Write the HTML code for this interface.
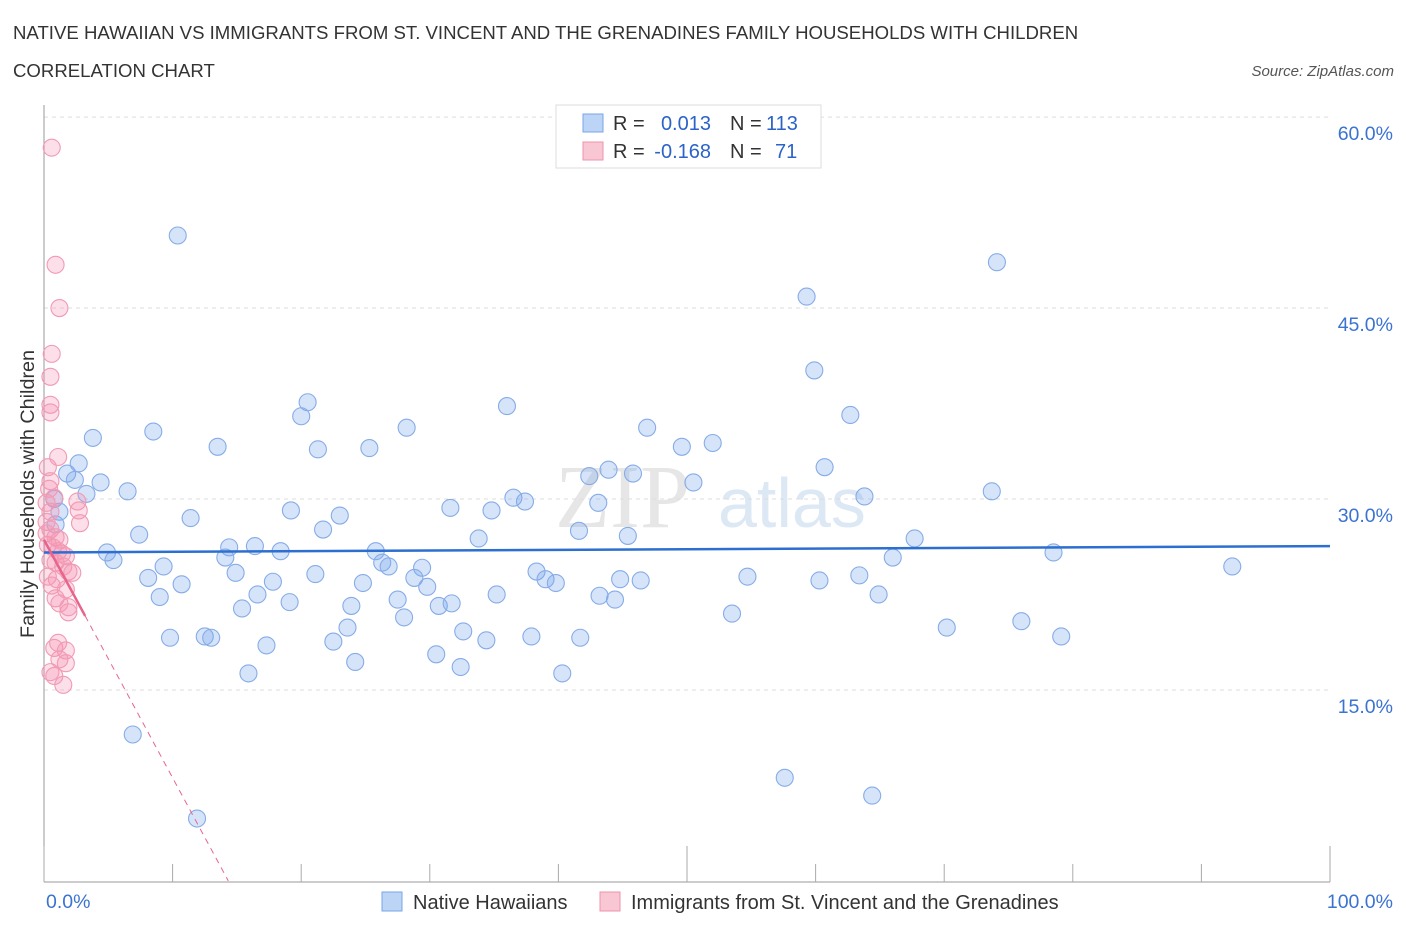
<!DOCTYPE html>
<html><head><meta charset="utf-8"><style>
body{margin:0;background:#fff;font-family:"Liberation Sans",sans-serif;}
svg{display:block}
</style></head><body>
<svg id="chart" width="1406" height="930" xmlns="http://www.w3.org/2000/svg">
<text x="13" y="39" font-size="18.6" fill="#333">NATIVE HAWAIIAN VS IMMIGRANTS FROM ST. VINCENT AND THE GRENADINES FAMILY HOUSEHOLDS WITH CHILDREN</text>
<text x="13" y="77" font-size="18.6" fill="#333">CORRELATION CHART</text>
<text x="1394" y="76" font-size="15" fill="#555" font-style="italic" text-anchor="end">Source: ZipAtlas.com</text>
<g><text x="555" y="527" font-size="90" fill="#e6e6e6" font-family="Liberation Serif,serif">ZIP</text><text x="718" y="527" font-size="70" fill="#dde8f5">atlas</text></g>
<g id="grid"></g><g id="axes"></g><g id="marks"></g>
<text transform="translate(34,494) rotate(-90)" font-size="19.8" fill="#333" text-anchor="middle">Family Households with Children</text>
<g>
<rect x="556" y="105" width="265" height="63" fill="#fff" stroke="#ddd"/>
<rect x="583" y="114" width="20" height="18" fill="#bcd4f5" stroke="#7aa6e6"/>
<text x="613" y="130" font-size="20" fill="#333">R =</text><text x="711" y="130" font-size="20" fill="#2b63c9" text-anchor="end">0.013</text>
<text x="730" y="130" font-size="20" fill="#333">N =</text><text x="766" y="130" font-size="20" fill="#2b63c9">113</text>
<rect x="583" y="142" width="20" height="18" fill="#f9c6d4" stroke="#ef92ae"/>
<text x="613" y="158" font-size="20" fill="#333">R =</text><text x="711" y="158" font-size="20" fill="#2b63c9" text-anchor="end">-0.168</text>
<text x="730" y="158" font-size="20" fill="#333">N =</text><text x="775" y="158" font-size="20" fill="#2b63c9">71</text>
</g>
<g>
<rect x="382" y="892" width="20" height="19" fill="#bcd4f5" stroke="#7aa6e6"/>
<text x="413" y="909" font-size="20" fill="#333">Native Hawaiians</text>
<rect x="600" y="892" width="20" height="19" fill="#f9c6d4" stroke="#ef92ae"/>
<text x="631" y="909" font-size="20" fill="#333">Immigrants from St. Vincent and the Grenadines</text>
</g>
</svg>
<script>
const blueX=[10.4,74.1,59.3,59.9,62.7,20.5,20.0,36.0,28.2,8.5,3.8,46.9,52.0,49.6,13.5,21.3,25.3,2.7,1.8,2.4,4.4,43.9,45.8,42.4,60.7,50.5,6.5,3.3,0.8,73.7,63.8,36.5,37.4,43.1,31.6,34.8,19.2,23.0,11.4,1.2,0.9,21.7,41.6,7.4,45.4,33.8,67.7,14.4,16.4,18.4,25.8,4.9,5.4,14.1,78.5,66.0,9.3,26.3,26.8,29.4,92.4,14.9,21.1,38.3,8.1,28.8,54.7,63.4,39.0,39.8,44.8,46.4,60.3,10.7,17.8,24.8,29.8,9.0,16.6,27.5,19.1,35.2,43.2,44.4,64.9,15.4,23.9,30.7,31.7,28.0,53.5,76.0,23.6,32.6,70.2,9.8,12.5,13.0,22.5,34.4,37.9,41.7,79.1,17.3,30.5,24.2,32.4,15.9,40.3,6.9,57.6,64.4,11.9];
const blueY=[50.7,48.6,45.9,40.1,36.6,37.6,36.5,37.3,35.6,35.3,34.8,35.6,34.4,34.1,34.1,33.9,34.0,32.8,32.0,31.5,31.3,32.3,32.0,31.8,32.5,31.3,30.6,30.4,30.0,30.6,30.2,30.1,29.8,29.7,29.3,29.1,29.1,28.7,28.5,29.0,28.0,27.6,27.5,27.2,27.1,26.9,26.9,26.2,26.3,25.9,25.9,25.8,25.2,25.4,25.8,25.4,24.7,25.0,24.7,24.6,24.7,24.2,24.1,24.3,23.8,23.8,23.9,24.0,23.7,23.4,23.7,23.6,23.6,23.3,23.5,23.4,23.1,22.3,22.5,22.1,21.9,22.5,22.4,22.1,22.5,21.4,21.6,21.6,21.8,20.7,21.0,20.4,19.9,19.6,19.9,19.1,19.2,19.1,18.8,18.9,19.2,19.1,19.2,18.5,17.8,17.2,16.8,16.3,16.3,11.5,8.1,6.7,4.9];
const pinkX=[0.6,0.9,1.2,0.6,0.5,0.5,0.5,1.1,0.3,0.5,0.4,2.6,0.8,2.7,0.5,2.8,0.2,0.5,0.9,1.2,0.3,0.7,1.1,1.4,1.7,0.5,0.9,1.5,1.9,0.3,1.0,0.6,1.7,0.9,1.2,1.9,1.9,1.1,0.8,1.7,1.2,1.7,0.5,0.8,1.5,2.2,0.2,0.2];
const pinkY=[57.6,48.4,45.0,41.4,39.6,37.4,36.8,33.3,32.5,31.4,30.8,29.8,30.1,29.1,29.0,28.1,28.2,27.6,27.0,26.8,26.4,26.2,25.9,25.7,25.5,25.2,25.0,24.7,24.3,23.9,23.7,23.2,22.9,22.2,21.8,21.5,21.1,18.7,18.3,18.1,17.4,17.1,16.4,16.1,15.4,24.2,27.3,29.7];
const blueTrend=[25.8,26.3];
const pinkTrend=[26.8,-1.87];
const yTicks=[15,30,45,60];
const xTickLabels=["0.0%","100.0%"];
const NS="http://www.w3.org/2000/svg";
const X=v=>44+v*12.86, Y=v=>499-(v-30)*12.73;
function mk(t,a,p){const e=document.createElementNS(NS,t);for(const k in a)e.setAttribute(k,a[k]);p.appendChild(e);return e;}
const grid=document.getElementById('grid'),axes=document.getElementById('axes'),marks=document.getElementById('marks');
yTicks.forEach(v=>{
 const l=mk('line',{x1:44,x2:1330,y1:Y(v),y2:Y(v),stroke:'#ddd','stroke-dasharray':'4,4'},grid);
 
 
 const t=mk('text',{x:1393,y:Y(v)+23,'font-size':19.5,fill:'#3b73d1','text-anchor':'end'},axes);
 t.textContent=v.toFixed(1)+'%';
 
 
});
mk('line',{x1:44,x2:44,y1:105,y2:882,stroke:'#999'},axes);
mk('line',{x1:44,x2:1330,y1:882,y2:882,stroke:'#999'},axes);
for(let i=0;i<=10;i++){const tk=mk('line',{x1:X(i*10),x2:X(i*10),y1:882,y2:i==0||i==5||i==10?846:864,stroke:'#aaa'},axes);
 
 }
[[0,xTickLabels[0],'start',46],[100,xTickLabels[1],'end',1393]].forEach(a=>{const t=mk('text',{x:a[3],y:908,'font-size':19.5,fill:'#3b73d1','text-anchor':a[2]},axes);t.textContent=a[1];
 
 });
blueX.forEach((x,i)=>{const c=mk('circle',{cx:X(x),cy:Y(blueY[i]),r:8.5,fill:'rgba(120,165,235,0.3)',stroke:'#86ace8','stroke-width':1.1},marks);
 
 });
pinkX.forEach((x,i)=>{const c=mk('circle',{cx:X(x),cy:Y(pinkY[i]),r:8.5,fill:'rgba(244,150,180,0.3)',stroke:'#f19ab4','stroke-width':1.1},marks);
 
 });
const bl=mk('line',{x1:X(0),y1:Y(blueTrend[0]),x2:X(100),y2:Y(blueTrend[1]),stroke:'#2c6fd0','stroke-width':2.5},marks);


const pe=-pinkTrend[0]/pinkTrend[1];
const ps=mk('line',{x1:X(0),y1:Y(pinkTrend[0]),x2:X(3.2),y2:Y(pinkTrend[0]+pinkTrend[1]*3.2),stroke:'#e8648d','stroke-width':2.5},marks);


const pd=mk('line',{x1:X(3.2),y1:Y(pinkTrend[0]+pinkTrend[1]*3.2),x2:X(pe),y2:Y(0),stroke:'#e8648d','stroke-width':1,'stroke-dasharray':'6,5'},marks);


</script>
</body></html>
